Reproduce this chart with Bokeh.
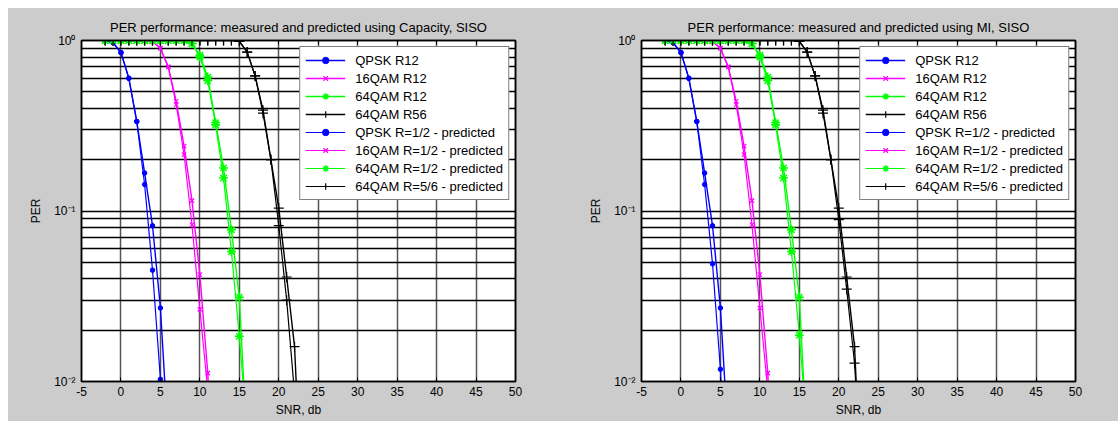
from bokeh.plotting import figure
from bokeh.layouts import row
from bokeh.models import FixedTicker, LinearAxis, LogAxis, Range1d, Legend, LegendItem
from bokeh.embed import file_html
from bokeh.resources import INLINE

# ---------------- data ----------------
snr_qpsk = [-2, -1, 0, 1, 2, 3, 4, 5, 6]
qpsk_meas = [1.0, 0.97, 0.85, 0.60, 0.335, 0.167, 0.082, 0.027, 0.0045]
qpsk_pred_cap = [1.0, 0.97, 0.85, 0.60, 0.335, 0.143, 0.045, 0.0103, 0.0012]
qpsk_pred_mi = [1.0, 0.97, 0.85, 0.60, 0.335, 0.143, 0.049, 0.0118, 0.0015]

snr_16qam = [-2, -1, 0, 1, 2, 3, 4, 5, 6, 7, 8, 9, 10, 11, 12]
qam16_meas = [1.0, 1.0, 1.0, 1.0, 1.0, 1.0, 0.99, 0.90, 0.70, 0.44, 0.24, 0.115, 0.0424, 0.0112, 0.0012]
qam16_pred_cap = [1.0, 1.0, 1.0, 1.0, 1.0, 1.0, 0.99, 0.90, 0.70, 0.42, 0.214, 0.083, 0.0265, 0.0089, 0.0008]
qam16_pred_mi = [1.0, 1.0, 1.0, 1.0, 1.0, 1.0, 0.99, 0.90, 0.70, 0.42, 0.214, 0.083, 0.027, 0.0089, 0.0008]

snr_64qam12 = [-2, -1, 0, 1, 2, 3, 4, 5, 6, 7, 8, 9, 10, 11, 12, 13, 14, 15, 16]
qam64r12_meas = [1.0, 1.0, 1.0, 1.0, 1.0, 1.0, 1.0, 1.0, 1.0, 1.0, 1.0, 0.96, 0.82, 0.61, 0.33, 0.179, 0.0776, 0.0312, 0.004]
qam64r12_pred_cap = [1.0, 1.0, 1.0, 1.0, 1.0, 1.0, 1.0, 1.0, 1.0, 1.0, 1.0, 0.96, 0.80, 0.58, 0.32, 0.156, 0.0578, 0.0184, 0.005]
qam64r12_pred_mi = [1.0, 1.0, 1.0, 1.0, 1.0, 1.0, 1.0, 1.0, 1.0, 1.0, 1.0, 0.96, 0.80, 0.58, 0.32, 0.156, 0.0578, 0.0187, 0.005]

snr_64qam56 = [-2, -1, 0, 1, 2, 3, 4, 5, 6, 7, 8, 9, 10, 11, 12, 13, 14, 15, 16, 17, 18, 19, 20, 21, 22, 23]
qam64r56_meas = [1.0, 1.0, 1.0, 1.0, 1.0, 1.0, 1.0, 1.0, 1.0, 1.0, 1.0, 1.0, 1.0, 1.0, 1.0, 1.0, 1.0, 0.99,
                 0.855, 0.62, 0.39, 0.20, 0.104, 0.041, 0.016, 0.0016]
qam64r56_pred_cap = [1.0, 1.0, 1.0, 1.0, 1.0, 1.0, 1.0, 1.0, 1.0, 1.0, 1.0, 1.0, 1.0, 1.0, 1.0, 1.0, 1.0, 0.99,
                     0.855, 0.62, 0.375, 0.20, 0.082, 0.030, 0.0085, 0.002]
qam64r56_pred_mi = [1.0, 1.0, 1.0, 1.0, 1.0, 1.0, 1.0, 1.0, 1.0, 1.0, 1.0, 1.0, 1.0, 1.0, 1.0, 1.0, 1.0, 0.99,
                    0.855, 0.62, 0.375, 0.20, 0.089, 0.0348, 0.0128, 0.002]

legend_labels = ["QPSK R12", "16QAM R12", "64QAM R12", "64QAM R56",
                 "QPSK R=1/2 - predicted", "16QAM R=1/2 - predicted",
                 "64QAM R=1/2 - predicted", "64QAM R=5/6 - predicted"]

titles = ["PER performance: measured and predicted using Capacity, SISO",
          "PER performance: measured and predicted using MI, SISO"]

x_ticks = [-5, 0, 5, 10, 15, 20, 25, 30, 35, 40, 45, 50]
x_tick_labels = ["-5", "0", "5", "10", "15", "20", "25", "30", "35", "40", "45", "50"]
y_ticks = [0.01, 0.1, 1.0]
y_tick_labels = ["10\u207b\u00b2", "10\u207b\u00b9", "10\u2070"]
y_minor_ticks = [0.02, 0.03, 0.04, 0.05, 0.06, 0.07, 0.08, 0.09,
                 0.2, 0.3, 0.4, 0.5, 0.6, 0.7, 0.8, 0.9]

FONT = "Liberation Sans"
FS_TITLE = "13px"
FS_LEG = "13px"
FS_TICK = "12px"
FS_AXIS = "12px"

STYLES = [  # color, marker, marker size, marker line width
    ("#0000ff", "circle", 4.5, 1.0),
    ("#ff00ff", "x", 6, 1.2),
    ("#00ff00", "asterisk", 9, 1.5),
    ("#000000", "cross", 10, 1.2),
]


def make_plot(title, preds, width, bl, br):
    p = figure(width=width, height=413, x_range=Range1d(-5, 50), y_range=Range1d(0.01, 1.0),
               y_axis_type="log", output_backend="svg", toolbar_location=None,
               min_border_left=bl, min_border_right=br, min_border_top=32, min_border_bottom=40,
               background_fill_color="white", border_fill_color="#cccccc",
               outline_line_color="black", outline_line_width=1.5,
               x_axis_label="SNR, db", y_axis_label="PER")
    p.title.text = title
    p.title.align = "center"
    p.title.text_font = FONT
    p.title.text_font_size = FS_TITLE
    p.title.text_font_style = "normal"
    p.title.text_color = "black"
    p.title.standoff = 12

    xt = FixedTicker(ticks=x_ticks, minor_ticks=[])
    yt = FixedTicker(ticks=y_ticks, minor_ticks=y_minor_ticks)

    xa = p.xaxis[0]
    xa.ticker = xt
    xa.major_label_overrides = {v: s for v, s in zip(x_ticks, x_tick_labels)}
    ya = p.yaxis[0]
    ya.ticker = yt
    ya.major_label_overrides = {v: s for v, s in zip(y_ticks, y_tick_labels)}
    for ax in (xa, ya):
        ax.major_label_text_font = FONT
        ax.major_label_text_font_size = FS_TICK
        ax.major_label_text_color = "black"
        ax.axis_label_text_font = FONT
        ax.axis_label_text_font_size = FS_AXIS
        ax.axis_label_text_font_style = "normal"
        ax.axis_label_text_color = "black"
        ax.major_tick_in = 4
        ax.major_tick_out = 0
        ax.minor_tick_in = 2
        ax.minor_tick_out = 0
        ax.axis_line_color = "black"
        ax.axis_line_width = 1.5
        ax.major_tick_line_color = "black"
        ax.minor_tick_line_color = "black"
    xa.major_label_standoff = 5
    xa.axis_label_standoff = 4
    ya.major_label_standoff = 6
    ya.axis_label_standoff = 8

    top = LinearAxis(ticker=xt, major_label_text_color=None, major_tick_in=4, major_tick_out=0,
                     minor_tick_in=0, minor_tick_out=0, axis_line_color="black", axis_line_width=1.5,
                     major_label_standoff=0, major_label_text_font_size="2px")
    right = LogAxis(ticker=yt, major_label_text_color=None, major_tick_in=4, major_tick_out=0,
                    minor_tick_in=2, minor_tick_out=0, axis_line_color="black", axis_line_width=1.5,
                    major_label_standoff=0, major_label_text_font_size="2px")
    p.add_layout(top, "above")
    p.add_layout(right, "right")

    p.xgrid.ticker = xt
    p.xgrid.grid_line_color = "#555555"
    p.xgrid.grid_line_width = 1.5
    p.ygrid.ticker = yt
    p.ygrid.grid_line_color = "black"
    p.ygrid.grid_line_width = 1.5
    p.ygrid.minor_grid_line_color = "black"
    p.ygrid.minor_grid_line_width = 1.5

    series = [
        (snr_qpsk, qpsk_meas), (snr_16qam, qam16_meas), (snr_64qam12, qam64r12_meas), (snr_64qam56, qam64r56_meas),
    ] + list(zip([snr_qpsk, snr_16qam, snr_64qam12, snr_64qam56], preds))

    items = []
    for i, (xs, ys) in enumerate(series):
        color, marker, size, mlw = STYLES[i % 4]
        lw = 1.4 if i < 4 else 1.2
        lr = p.line(xs, ys, line_color=color, line_width=lw)
        sr = p.scatter(xs, ys, marker=marker, size=size, line_color=color, fill_color=color, line_width=mlw)
        items.append(LegendItem(label=legend_labels[i], renderers=[lr, sr]))

    legend = Legend(items=items, location="top_right", margin=6, padding=5, spacing=2,
                    glyph_width=40, glyph_height=16, label_height=16, label_standoff=10,
                    label_text_font=FONT, label_text_font_size=FS_LEG, label_text_color="black",
                    border_line_color="black", border_line_width=1.5, background_fill_color="white",
                    background_fill_alpha=1.0)
    p.add_layout(legend)
    return p


p1 = make_plot(titles[0], [qpsk_pred_cap, qam16_pred_cap, qam64r12_pred_cap, qam64r56_pred_cap],
               551, 73, 44)
p2 = make_plot(titles[1], [qpsk_pred_mi, qam16_pred_mi, qam64r12_pred_mi, qam64r56_pred_mi],
               559, 82, 43)

layout = row(p1, p2, spacing=0, margin=(8, 0, 0, 8), styles={"background-color": "#cccccc"})
open("out.html", "w").write(file_html(layout, INLINE))
